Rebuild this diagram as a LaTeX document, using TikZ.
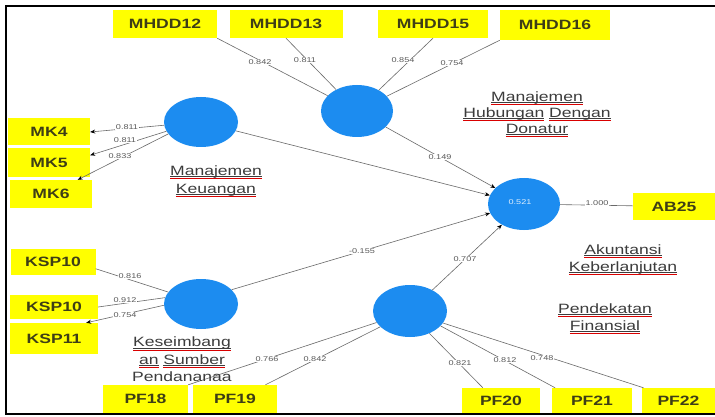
\documentclass[tikz,border=0pt]{standalone}
\usepackage{fontspec}
\usetikzlibrary{arrows.meta,shapes.geometric}
\setmainfont{Liberation Sans}[FakeStretch=1.3]
\definecolor{nodeblue}{RGB}{28,140,240}
\definecolor{boxyellow}{RGB}{255,255,0}
\definecolor{linegray}{RGB}{105,105,105}
\definecolor{txtgray}{RGB}{60,60,60}
\definecolor{boxtext}{RGB}{62,62,22}
\newsavebox\sqbox
\newcommand\squig[1]{\leavevmode\sbox\sqbox{#1}\rlap{\textcolor{txtgray}{\rule[-0.18ex]{\wd\sqbox}{0.45pt}}}\rlap{\textcolor{red!85!black}{\rule[-0.48ex]{\wd\sqbox}{0.45pt}}}\usebox\sqbox}
\begin{document}
\begin{tikzpicture}[x=1pt,y=-1pt,
  lv/.style={ellipse, fill=nodeblue, inner sep=0pt},
  ind/.style={fill=boxyellow, inner sep=0pt, font=\fontsize{13.5}{15}\selectfont\bfseries, text=boxtext},
  ld/.style={fill=white, inner sep=0.7pt, font=\fontsize{7}{8}\selectfont, text=black!65},
  conn/.style={draw=linegray, line width=0.6pt},
  arr/.style={conn, -{Stealth[length=5pt,width=4pt,color=black]}},
  capt/.style={align=center, text=txtgray}]
\useasboundingbox (0,0) rectangle (715,417);
\fill[white] (0,0) rectangle (715,417);

% latent variables
\node[lv, minimum width=74pt, minimum height=50pt] (mk) at (201,122) {};
\node[lv, minimum width=72pt, minimum height=52pt] (mhdd) at (357,111) {};
\node[lv, minimum width=72pt, minimum height=52pt] (ab) at (524,204) {};
\node[lv, minimum width=74pt, minimum height=50pt] (ksp) at (201,304) {};
\node[lv, minimum width=74pt, minimum height=52pt] (pf) at (410,311) {};

% indicators
\node[ind, minimum width=104pt, minimum height=28pt] (mhdd12) at (165,24) {MHDD12};
\node[ind, minimum width=113pt, minimum height=28pt] (mhdd13) at (286,24) {MHDD13};
\node[ind, minimum width=110pt, minimum height=28pt] (mhdd15) at (433,24) {MHDD15};
\node[ind, minimum width=110pt, minimum height=30pt] (mhdd16) at (555,25) {MHDD16};
\node[ind, minimum width=82pt, minimum height=27pt] (mk4) at (49,132) {MK4};
\node[ind, minimum width=82pt, minimum height=29pt] (mk5) at (49,162.5) {MK5};
\node[ind, minimum width=82pt, minimum height=28pt] (mk6) at (51,194) {MK6};
\node[ind, minimum width=82pt, minimum height=27pt] (ab25) at (674,206.5) {AB25};
\node[ind, minimum width=85pt, minimum height=26pt] (ksp10a) at (53,262) {KSP10};
\node[ind, minimum width=88pt, minimum height=24pt] (ksp10b) at (54,307) {KSP10};
\node[ind, minimum width=88pt, minimum height=31pt] (ksp11) at (54,338.5) {KSP11};
\node[ind, minimum width=85pt, minimum height=28pt] (pf18) at (145.5,399) {PF18};
\node[ind, minimum width=84pt, minimum height=28pt] (pf19) at (235,399) {PF19};
\node[ind, minimum width=78pt, minimum height=25pt] (pf20) at (501,400.5) {PF20};
\node[ind, minimum width=80pt, minimum height=25pt] (pf21) at (592,400.5) {PF21};
\node[ind, minimum width=73pt, minimum height=25pt] (pf22) at (678.5,400.5) {PF22};

% connectors
\draw[conn] (mhdd12.south east) -- (mhdd);
\draw[conn] (mhdd13.south) -- (mhdd);
\draw[conn] (mhdd15.south) -- (mhdd);
\draw[conn] (mhdd16.south west) -- (mhdd);
\draw[arr] (mhdd) -- (ab);
\draw[arr] (mk) -- (ab);
\draw[arr] (ksp.25) -- (ab.195);
\draw[arr] (pf) -- (ab);
\draw[conn] (ab) -- (ab25);
\draw[arr] (mk.185) -- (mk4.east);
\draw[arr] (mk.195) -- (mk5.10);
\draw[arr] (mk.200) -- (mk6.28);
\draw[conn] (ksp.160) -- (ksp10a.-9);
\draw[conn] (ksp.170) -- (ksp10b.east);
\draw[arr] (ksp.182) -- (ksp11.26);
\draw[conn] (pf.199) -- (pf18.north east);
\draw[conn] (pf.208) -- (pf19.25);
\draw[conn] (pf.311) -- (pf20.145);
\draw[conn] (pf.334) -- (pf21.161);
\draw[conn] (pf.340) -- (pf22.160);

% loadings / path coefficients
\node[ld] (l1) at (260,62) {0.842};
\node[ld] (l2) at (305,60) {0.811};
\node[ld] (l3) at (403,60) {0.854};
\node[ld] (l4) at (452,63) {0.754};
\node[ld] (l5) at (440,157) {0.149};
\node[ld] (l6) at (127,127) {0.811};
\node[ld] (l7) at (125,140) {0.811};
\node[ld] (l8) at (120,156) {0.833};
\node[ld] (l9) at (597,203) {1.000};
\node[ld] (l10) at (362,251) {-0.155};
\node[ld] (l11) at (465,259) {0.707};
\node[ld] (l12) at (130,276) {0.816};
\node[ld] (l13) at (125,300) {0.912};
\node[ld] (l14) at (125,315) {0.754};
\node[ld] (l15) at (267,359) {0.766};
\node[ld] (l16) at (315,359) {0.842};
\node[ld] (l17) at (460,363) {0.821};
\node[ld] (l18) at (505,360) {0.812};
\node[ld] (l19) at (542,358) {0.748};
\node[font=\fontsize{7}{8}\selectfont, text=white!85!nodeblue] (r2) at (520,202) {0.521};

% construct captions
\node[capt, font=\fontsize{13.5}{18}\selectfont] (capmk) at (216,181) {\squig{Manajemen}\\\squig{Keuangan}};
\node[capt, font=\fontsize{13.5}{16}\selectfont] (capmhdd) at (537,114) {\squig{Manajemen}\\\squig{Hubungan} \squig{Dengan}\\\squig{Donatur}};
\node[capt, font=\fontsize{13.5}{17}\selectfont] (capab) at (623,259.5) {\squig{Akuntansi}\\\squig{Keberlanjutan}};
\node[capt, font=\fontsize{13.5}{17}\selectfont] (cappf) at (605,318.5) {\squig{Pendekatan}\\\squig{Finansial}};
\node[capt, font=\fontsize{13.5}{17.5}\selectfont] (capksp) at (182,359.5) {\squig{Keseimbang}\\\squig{an} \squig{Sumber}\\Pendananaa};

% frame
\draw[line width=2pt] (716,6.5) -- (6,6.5) -- (6,413.5) -- (716,413.5);
\end{tikzpicture}
\end{document}
